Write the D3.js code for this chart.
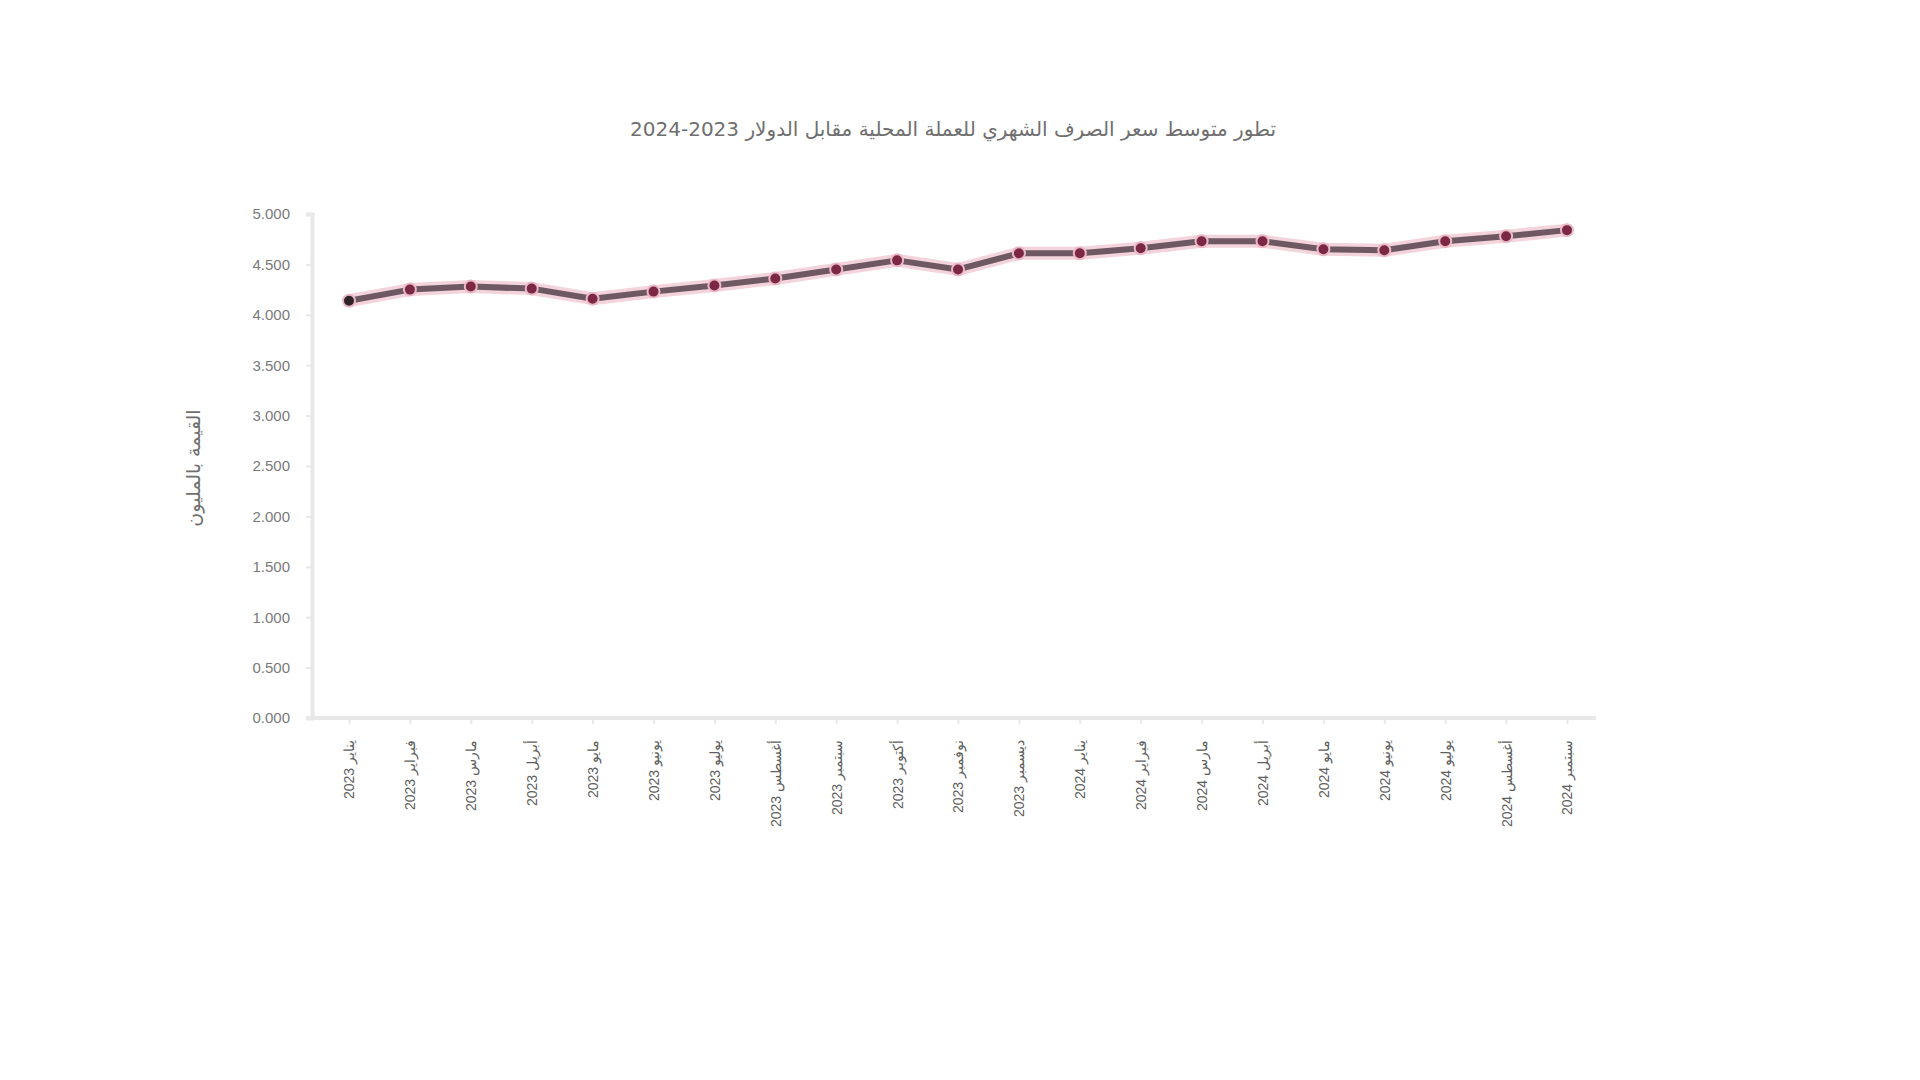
<!DOCTYPE html>
<html lang="ar">
<head>
<meta charset="utf-8">
<script src="https://cdn.jsdelivr.net/npm/d3@7"></script>
<style>
  body { margin: 0; background: #fff; }
  svg { display: block; font-family: "DejaVu Sans", "Noto Sans", sans-serif; }
</style>
</head>
<body>
<script>
// chart data
const title = 'تطور متوسط سعر الصرف الشهري للعملة المحلية مقابل الدولار 2023-2024';
const yLabel = 'القيمة بالمليون';
const months = ['يناير 2023', 'فبراير 2023', 'مارس 2023', 'أبريل 2023', 'مايو 2023', 'يونيو 2023', 'يوليو 2023',
  'أغسطس 2023', 'سبتمبر 2023', 'أكتوبر 2023', 'نوفمبر 2023', 'ديسمبر 2023', 'يناير 2024', 'فبراير 2024',
  'مارس 2024', 'أبريل 2024', 'مايو 2024', 'يونيو 2024', 'يوليو 2024', 'أغسطس 2024', 'سبتمبر 2024'];
const values = [4.14, 4.25, 4.28, 4.26, 4.16, 4.23, 4.29, 4.36, 4.45, 4.54, 4.45,
  4.61, 4.61, 4.66, 4.73, 4.73, 4.65, 4.64, 4.73, 4.78, 4.84];
const yTicks = [0, 0.5, 1, 1.5, 2, 2.5, 3, 3.5, 4, 4.5, 5];

const width = 1920;
const height = 1080;

const svg = d3.select('body')
  .append('svg')
  .attr('width', width)
  .attr('height', height);

const x = d3.scalePoint()
  .domain(months)
  .range([349, 1567]);

const y = d3.scaleLinear()
  .domain([0, 5])
  .range([718, 214]);

// title
svg.append('text')
  .attr('x', 953)
  .attr('y', 136)
  .attr('text-anchor', 'middle')
  .attr('direction', 'rtl')
  .attr('font-size', 20)
  .attr('fill', '#6f6f6f')
  .text(title);

// y axis
const yAxis = svg.append('g')
  .attr('transform', 'translate(312,0)')
  .call(d3.axisLeft(y).tickValues(yTicks).tickFormat(d3.format('.3f')).tickSize(6).tickPadding(16));
yAxis.select('.domain').attr('stroke', '#e8e8e8').attr('stroke-width', 4);
yAxis.selectAll('.tick line').attr('stroke', '#e8e8e8').attr('stroke-width', 2);
yAxis.selectAll('.tick text').attr('font-size', 15).attr('fill', '#7a7a7a');

// x axis
const xAxis = svg.append('g')
  .attr('transform', 'translate(0,718)')
  .call(d3.axisBottom(x).tickSize(6).tickSizeOuter(0));
xAxis.select('.domain')
  .attr('d', 'M306,0H1596')
  .attr('stroke', '#e8e8e8')
  .attr('stroke-width', 4);
xAxis.selectAll('.tick line').attr('stroke', '#e8e8e8').attr('stroke-width', 2);
xAxis.selectAll('.tick text')
  .attr('font-size', 14)
  .attr('fill', '#5f5f5f')
  .attr('text-anchor', 'end')
  .attr('dy', '0.35em')
  .attr('transform', 'translate(0,22) rotate(-90)')
  .attr('x', 0)
  .attr('y', 0);

// y axis label
svg.append('text')
  .attr('transform', 'translate(200,468) rotate(-90)')
  .attr('text-anchor', 'middle')
  .attr('font-size', 19)
  .attr('fill', '#6f6f6f')
  .text(yLabel);

// series line
const line = d3.line()
  .x((d, i) => x(months[i]))
  .y(d => y(d));

svg.append('path')
  .datum(values)
  .attr('fill', 'none')
  .attr('stroke', '#f3d3dc')
  .attr('stroke-width', 13)
  .attr('stroke-linejoin', 'round')
  .attr('d', line);

svg.append('path')
  .datum(values)
  .attr('fill', 'none')
  .attr('stroke', '#6e5862')
  .attr('stroke-width', 6)
  .attr('stroke-linejoin', 'round')
  .attr('d', line);

svg.append('g')
  .selectAll('circle')
  .data(values)
  .join('circle')
  .attr('cx', (d, i) => x(months[i]))
  .attr('cy', d => y(d))
  .attr('r', 6)
  .attr('fill', (d, i) => i === 0 ? '#2e2327' : '#7a2843')
  .attr('stroke', '#e9b9c7')
  .attr('stroke-width', 2);
</script>
</body>
</html>
